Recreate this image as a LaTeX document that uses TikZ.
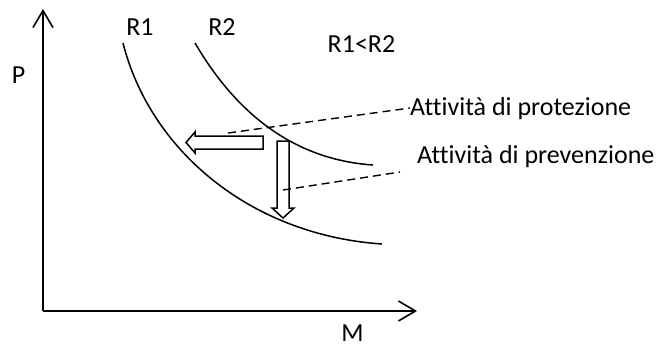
\documentclass[tikz,border=0pt]{standalone}
\usepackage{fontspec}
\setmainfont{Carlito}[Ligatures=NoCommon]
\usetikzlibrary{arrows.meta}
\begin{document}
\begin{tikzpicture}[x=1pt,y=-1pt,
 axis/.style={line width=1.6pt, -{Straight Barb[length=17pt,width=20pt,line width=1.6pt]}},
 curve/.style={line width=1.5pt},
 lbl/.style={font=\fontsize{26}{30}\selectfont, inner sep=0pt, anchor=base},
 blockarrow/.style={draw, line width=1.5pt, fill=white, line join=miter},
 leader/.style={dash pattern=on 8pt off 5pt, line width=1.4pt}]
\useasboundingbox (0,0) rectangle (661,349);
% axes
\coordinate (O) at (43,311);
\coordinate (Ptop) at (43,9);
\coordinate (Mend) at (417,311);
\draw[axis] (O) -- (Ptop);
\draw[axis] (O) -- (Mend);
% curves
\coordinate (r1s) at (123,43);
\coordinate (r1e) at (382,244);
\coordinate (r2s) at (195,43);
\coordinate (r2e) at (373,165);
\draw[curve] (r1s) .. controls (150,150) and (250,235) .. (r1e);
\draw[curve] (r2s) .. controls (240,120) and (300,160) .. (r2e);
% block arrows
\draw[blockarrow] (263,136) -- (195,136) -- (195,132) -- (186,142.5) -- (195,153) -- (195,149) -- (263,149) -- cycle;
\draw[blockarrow] (277,141) -- (289,141) -- (289,208) -- (294,208) -- (283,218) -- (272,208) -- (277,208) -- cycle;
% labels
\node[lbl] (P) at (18.5,83) {P};
\node[lbl] (R1) at (140,35) {R1};
\node[lbl] (R2) at (222,35) {R2};
\node[lbl] (cmp) at (361.5,52) {R1<R2};
\node[lbl, anchor=base west] (prot) at (410,115) {Attività di protezione};
\node[lbl, anchor=base west] (prev) at (417,163) {Attività di prevenzione};
\node[lbl] (M) at (352.5,341) {M};
% leaders
\coordinate (protstart) at (228,133);
\coordinate (prevstart) at (283,190);
\draw[leader] (protstart) -- (prot.base west |- 0,108) ;
\draw[leader] (prevstart) -- ([xshift=-17pt]prev.base west |- 0,172);
\end{tikzpicture}
\end{document}
